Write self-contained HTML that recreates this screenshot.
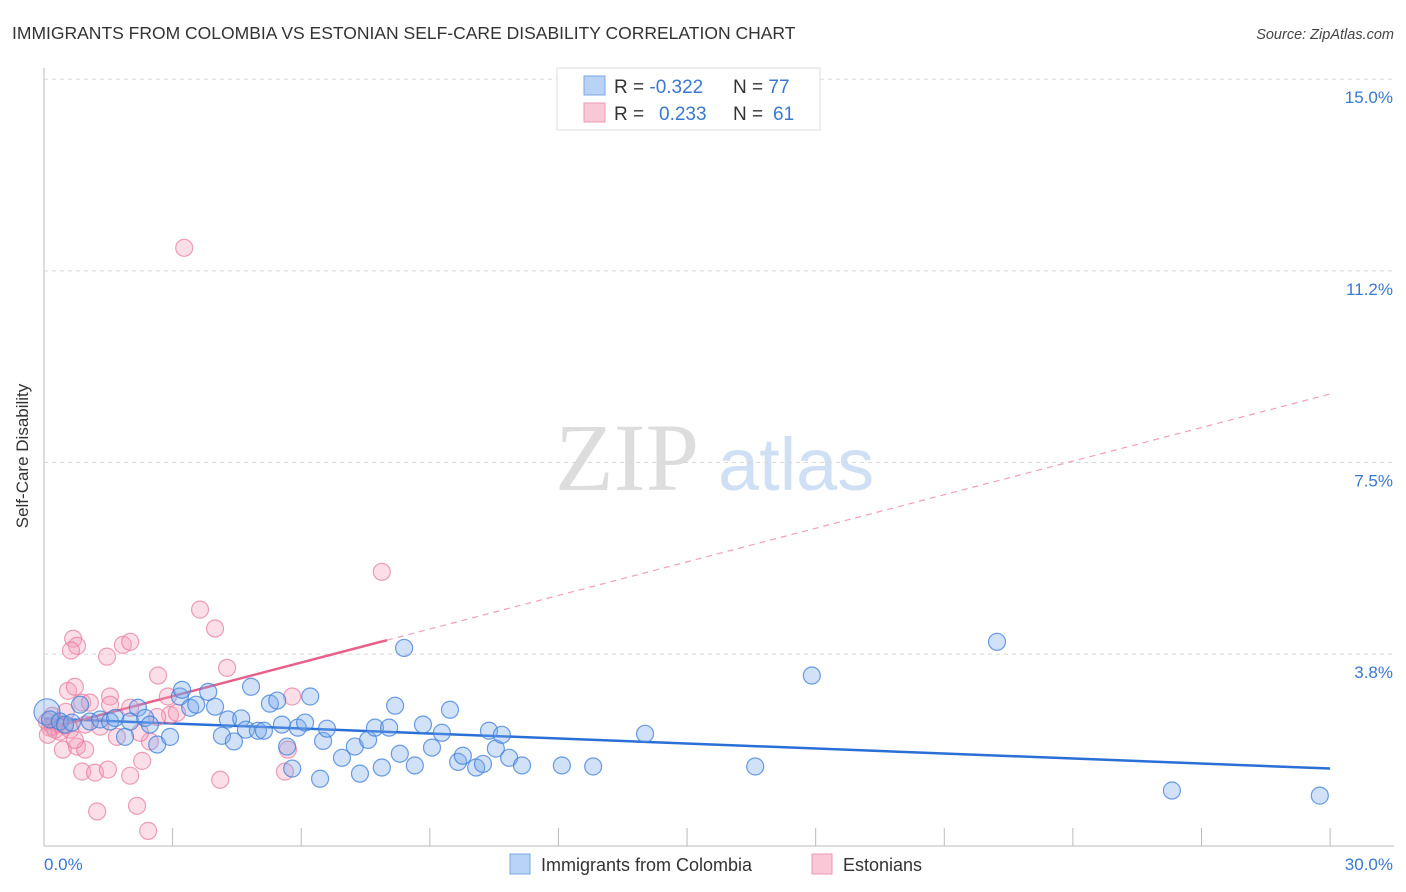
<!DOCTYPE html>
<html><head><meta charset="utf-8"><style>
body{margin:0;background:#fff;font-family:"Liberation Sans",sans-serif}
svg{display:block}
</style></head><body>
<svg id="c" width="1406" height="892" xmlns="http://www.w3.org/2000/svg">
<text x="12" y="39" font-size="17.5" fill="#333">IMMIGRANTS FROM COLOMBIA VS ESTONIAN SELF-CARE DISABILITY CORRELATION CHART</text>
<text x="1394" y="39" font-size="14.5" fill="#444" font-style="italic" text-anchor="end">Source: ZipAtlas.com</text>
<g><text x="555" y="490" font-size="96" fill="#ddd" font-family="Liberation Serif,serif">ZIP</text><text x="718" y="490" font-size="74" fill="#cfe0f4">atlas</text></g>
<g id="grid"></g><g id="axes"></g><g id="trend"></g><g id="pts"></g>
<text x="28" y="456" font-size="17" fill="#333" text-anchor="middle" transform="rotate(-90 28 456)">Self-Care Disability</text>
<text x="44" y="870" font-size="17" fill="#3a78d0">0.0%</text>
<text x="1393" y="870" font-size="17" fill="#3a78d0" text-anchor="end">30.0%</text>
<g>
<rect x="557" y="68" width="263" height="62" fill="#fff" stroke="#ddd"/>
<rect x="584" y="76" width="21" height="19" fill="#b8d3f5" stroke="#7aaae8"/>
<rect x="584" y="103" width="21" height="19" fill="#f9c8d6" stroke="#ee9ab4"/>
<text x="614" y="93" font-size="19" fill="#333">R = <tspan fill="#3a78d0">-0.322</tspan></text>
<text x="733" y="93" font-size="19" fill="#333">N = <tspan fill="#3a78d0">77</tspan></text>
<text x="614" y="120" font-size="19" fill="#333">R = <tspan fill="#3a78d0" x="659">0.233</tspan></text>
<text x="733" y="120" font-size="19" fill="#333">N = <tspan fill="#3a78d0" x="773">61</tspan></text>
</g>
<g>
<rect x="510" y="854" width="20" height="20" fill="#b8d3f5" stroke="#7aaae8"/>
<text x="541" y="871" font-size="18" fill="#333">Immigrants from Colombia</text>
<rect x="812" y="854" width="20" height="20" fill="#f9c8d6" stroke="#ee9ab4"/>
<text x="843" y="871" font-size="18" fill="#333">Estonians</text>
</g>
</svg>
<script>
const yTicks=[3.75,7.5,11.25,15];
const yTickLabels=["3.8%","7.5%","11.2%","15.0%"];
const xTicks=[0,3,6,9,12,15,18,21,24,27,30];
const blueX=[0.07,0.14,0.37,0.49,0.65,0.84,1.07,1.31,1.54,1.66,1.89,2.01,2.19,2.36,2.47,2.64,2.94,3.17,3.22,3.41,3.55,3.83,3.99,4.15,4.29,4.43,4.60,4.83,4.71,4.99,5.13,5.27,5.44,5.55,5.67,5.79,5.92,6.09,6.21,6.44,6.51,6.60,6.95,7.25,7.37,7.56,7.72,7.88,8.05,8.19,8.30,8.40,8.65,8.84,9.05,9.28,9.47,9.66,9.77,10.08,10.24,10.38,10.54,10.68,10.85,11.15,12.08,12.81,14.02,16.59,17.91,22.23,26.31,29.76];
const blueY=[2.62,2.47,2.43,2.37,2.41,2.76,2.43,2.47,2.43,2.50,2.13,2.43,2.70,2.50,2.37,1.98,2.13,2.92,3.05,2.70,2.76,3.01,2.72,2.15,2.47,2.04,2.49,3.11,2.27,2.25,2.25,2.78,2.84,2.37,1.94,1.51,2.31,2.41,2.92,1.31,2.05,2.29,1.72,1.94,1.41,2.07,2.31,1.53,2.31,2.74,1.80,3.87,1.57,2.37,1.92,2.21,2.66,1.64,1.76,1.53,1.60,2.25,1.90,2.17,1.72,1.57,1.57,1.55,2.19,1.55,3.33,3.99,1.08,0.98];
const pinkX=[7.88,3.27,3.64,3.99,0.68,0.77,0.63,1.47,1.84,2.01,4.27,2.66,0.56,0.72,2.89,5.79,1.54,0.89,1.07,2.01,1.54,0.21,0.44,0.77,0.96,0.89,1.19,1.49,2.01,2.29,2.47,4.11,5.62,5.69,1.24,2.17,2.43,2.94,3.10,1.31,1.70,2.24,2.64,0.07,0.14,0.26,0.19,0.33,0.37,0.49,0.09,0.61,0.72,0.51,0.96];
const pinkY=[5.36,11.70,4.62,4.25,4.05,3.91,3.82,3.70,3.93,3.99,3.48,3.33,3.03,3.11,2.92,2.92,2.92,2.80,2.80,2.70,2.76,2.33,1.88,1.94,1.88,1.45,1.43,1.49,1.37,1.66,2.04,1.29,1.45,1.88,0.67,0.78,0.29,2.56,2.60,2.33,2.13,2.21,2.52,2.43,2.31,2.27,2.54,2.39,2.23,2.35,2.17,2.27,2.07,2.62,2.37];
const blueTrend=[2.49,1.51];
const pinkTrend=[2.27,8.84];
const pinkSolidEnd=8.0;
const NS="http://www.w3.org/2000/svg";
const X=v=>44+v*42.87, Y=v=>845.7-v*51.1;
function mk(t,a,p){const e=document.createElementNS(NS,t);for(const k in a)e.setAttribute(k,a[k]);p.appendChild(e);return e;}
const grid=document.getElementById('grid'),axes=document.getElementById('axes'),trend=document.getElementById('trend'),pts=document.getElementById('pts');
yTicks.forEach((t,i)=>{
 const l=mk('line',{x1:44,x2:1394,y1:Y(t),y2:Y(t),stroke:'#d8d8d8','stroke-dasharray':'4,4'},grid);
 
 
 const tx=mk('text',{x:1393,y:Y(t)+24,'font-size':17,fill:'#3a78d0','text-anchor':'end'},grid);
 tx.textContent=yTickLabels[i];
 
 
});
let a=mk('line',{x1:44,x2:44,y1:68,y2:846,stroke:'#bbb'},axes);


a=mk('line',{x1:44,x2:1394,y1:846,y2:846,stroke:'#bbb'},axes);


xTicks.forEach(t=>{
 const l=mk('line',{x1:X(t),x2:X(t),y1:828,y2:846,stroke:'#bbb'},axes);
 
 
});
function dot(x,y,fill,stroke,name,r){
 const c=mk('circle',{cx:X(x),cy:Y(y),r:r||8.5,fill:fill,stroke:stroke,'stroke-width':1.2},pts);
 
 
}
pinkX.forEach((x,i)=>dot(x,pinkY[i],'rgba(244,160,188,0.35)','rgba(230,120,155,0.7)','estonians-point'));
blueX.forEach((x,i)=>dot(x,blueY[i],'rgba(120,170,235,0.35)','rgba(60,125,215,0.75)','colombia-point',i===0?13:8.5));
let t=mk('line',{x1:X(0),y1:Y(blueTrend[0]),x2:X(30),y2:Y(blueTrend[1]),stroke:'#2a6fd6','stroke-width':2.5},trend);


const pAt=x=>pinkTrend[0]+(pinkTrend[1]-pinkTrend[0])*x/30;
t=mk('line',{x1:X(0),y1:Y(pAt(0)),x2:X(pinkSolidEnd),y2:Y(pAt(pinkSolidEnd)),stroke:'#e8608a','stroke-width':2.5},trend);


t=mk('line',{x1:X(pinkSolidEnd),y1:Y(pAt(pinkSolidEnd)),x2:X(30),y2:Y(pAt(30)),stroke:'#eea0b8','stroke-width':1.2,'stroke-dasharray':'6,5'},trend);


</script>
</body></html>
